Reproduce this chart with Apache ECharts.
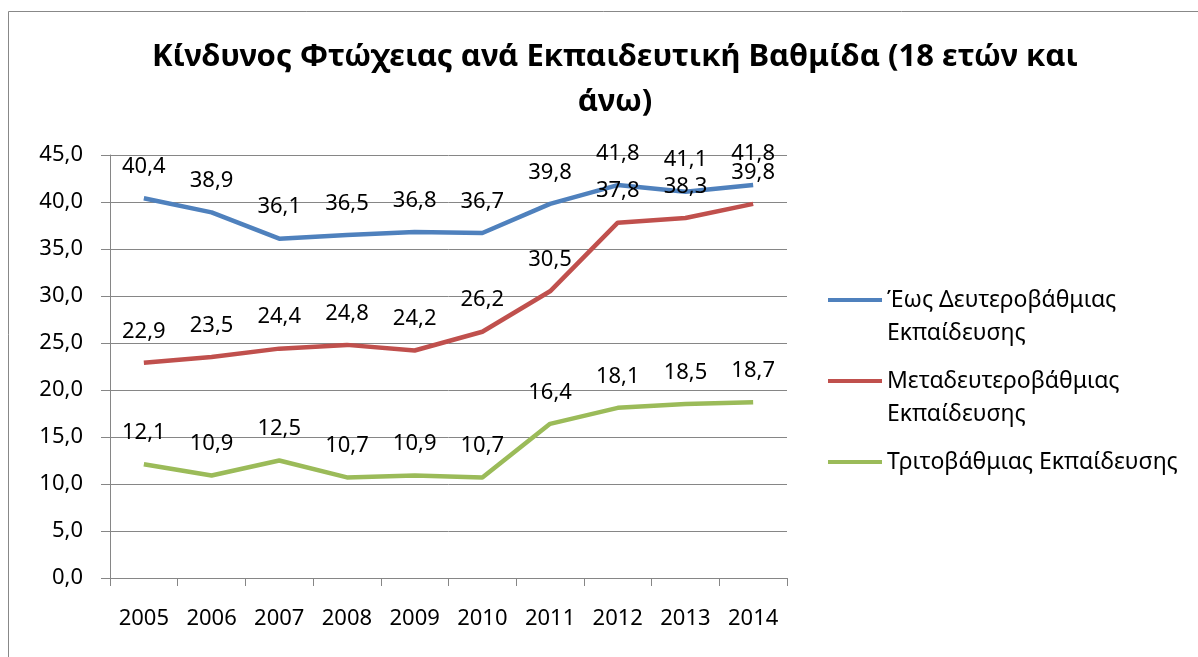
<!DOCTYPE html>
<html>
<head>
<meta charset="utf-8">
<script src="https://cdn.jsdelivr.net/npm/echarts@6/dist/echarts.min.js"></script>
<style>
html,body{margin:0;padding:0;background:#fff;}
#chart{width:1198px;height:657px;}
</style>
</head>
<body>
<div id="chart"></div>
<script>
const years = ['2005','2006','2007','2008','2009','2010','2011','2012','2013','2014'];
const seriesNames = ['Έως Δευτεροβάθμιας\nΕκπαίδευσης', 'Μεταδευτεροβάθμιας\nΕκπαίδευσης', 'Τριτοβάθμιας Εκπαίδευσης'];
const upToSecondary = [40.4, 38.9, 36.1, 36.5, 36.8, 36.7, 39.8, 41.8, 41.1, 41.8];
const postSecondary = [22.9, 23.5, 24.4, 24.8, 24.2, 26.2, 30.5, 37.8, 38.3, 39.8];
const tertiary = [12.1, 10.9, 12.5, 10.7, 10.9, 10.7, 16.4, 18.1, 18.5, 18.7];
const colors = ['#4F81BD', '#C0504D', '#9BBB59'];
const titleText = 'Κίνδυνος Φτώχειας ανά Εκπαιδευτική Βαθμίδα (18 ετών και\nάνω)';

const FONT = '"Noto Sans", "DejaVu Sans", sans-serif';
const fmt = v => v.toFixed(1).replace('.', ',');

const LEG_LEFT = 828, LEG_TOP = 284.5, LEG_ROW = 31, LEG_GAP = 50;
const legendFont = {fontFamily: FONT, fontSize: 23, color: '#000', lineHeight: LEG_ROW};

// continuation lines of wrapped legend names drawn as text under the first line
const contTexts = [];
seriesNames.forEach((n, i) => {
  const parts = n.split('\n');
  if (parts.length > 1) {
    contTexts.push({
      type: 'text',
      left: LEG_LEFT + 59,
      top: LEG_TOP + i * (LEG_ROW + LEG_GAP) + LEG_ROW + 6,
      style: {text: parts.slice(1).join('\n'), font: '23px ' + FONT, fill: '#000'},
      silent: true
    });
  }
});

const chart = echarts.init(document.getElementById('chart'), null, {renderer: 'canvas'});
const allData = [upToSecondary, postSecondary, tertiary];
chart.setOption({
  backgroundColor: '#fff',
  animation: false,
  color: colors,
  title: {
    text: titleText,
    left: 610,
    textAlign: 'center',
    top: 30,
    textStyle: {fontFamily: FONT, fontWeight: 'bold', fontSize: 31, color: '#000', lineHeight: 45}
  },
  graphic: [{
    type: 'rect',
    shape: {x: 8.5, y: 11.5, width: 1300, height: 800},
    style: {fill: 'none', stroke: '#888', lineWidth: 1},
    silent: true
  }].concat(contTexts),
  legend: {
    orient: 'vertical',
    left: LEG_LEFT,
    top: LEG_TOP,
    padding: 0,
    itemWidth: 54,
    itemHeight: 4,
    itemGap: LEG_GAP,
    icon: 'rect',
    formatter: name => name.split('\n')[0],
    data: seriesNames.map((n, i) => ({
      name: n,
      itemStyle: {color: colors[i], opacity: 1}
    })),
    textStyle: legendFont
  },
  grid: {left: 110, top: 155, right: 411, bottom: 79, containLabel: false},
  xAxis: {
    type: 'category',
    data: years,
    boundaryGap: true,
    axisLine: {lineStyle: {color: '#868686', width: 1}},
    axisTick: {show: true, length: 8, alignWithLabel: false, lineStyle: {color: '#868686'}},
    axisLabel: {fontFamily: FONT, fontSize: 22, color: '#000', margin: 30}
  },
  yAxis: {
    type: 'value',
    min: 0, max: 45, interval: 5,
    axisLine: {show: true, lineStyle: {color: '#868686', width: 1}},
    axisTick: {show: true, length: 9, lineStyle: {color: '#868686'}},
    splitLine: {lineStyle: {color: '#868686', width: 1}},
    axisLabel: {fontFamily: FONT, fontSize: 22, color: '#000', margin: 27, formatter: v => fmt(v)}
  },
  series: seriesNames.map((n, i) => ({
    name: n,
    type: 'line',
    data: allData[i],
    symbol: 'circle',
    symbolSize: 1,
    showSymbol: true,
    itemStyle: {color: colors[i], opacity: 0},
    lineStyle: {width: 4.5, color: colors[i]},
    label: {
      show: true, position: 'top', distance: 20,
      fontFamily: FONT, fontSize: 22, color: '#000', opacity: 1,
      formatter: p => fmt(p.value)
    }
  }))
});
</script>
</body>
</html>
